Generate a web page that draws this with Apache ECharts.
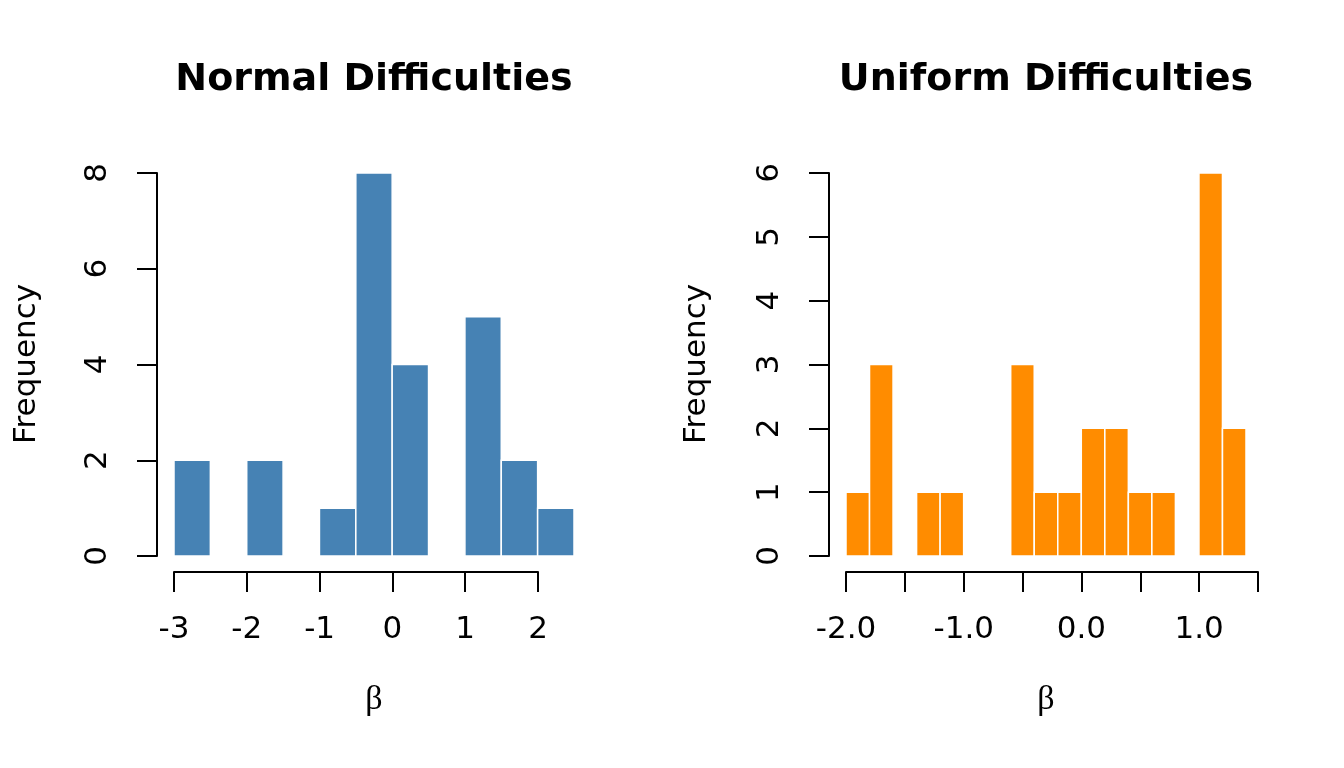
<!DOCTYPE html>
<html>
<head>
<meta charset="utf-8">
<script src="https://cdn.jsdelivr.net/npm/echarts@6/dist/echarts.min.js"></script>
<style>html,body{margin:0;padding:0;background:#fff}#c{width:1344px;height:768px}</style>
</head>
<body>
<div id="c"></div>
<script>
const normalBreaks = [-3, -2.5, -2, -1.5, -1, -0.5, 0, 0.5, 1, 1.5, 2, 2.5];
const normalCounts = [2, 0, 2, 0, 1, 8, 4, 0, 5, 2, 1];
const uniformBreaks = [-2.0, -1.8, -1.6, -1.4, -1.2, -1.0, -0.8, -0.6, -0.4, -0.2, 0.0, 0.2, 0.4, 0.6, 0.8, 1.0, 1.2, 1.4];
const uniformCounts = [1, 3, 0, 1, 1, 0, 0, 3, 1, 1, 2, 2, 1, 1, 0, 6, 2];
const titles = ['Normal Difficulties', 'Uniform Difficulties'];
const yTitle = 'Frequency';
const xTitle = 'β';

function binData(breaks, counts) {
  const out = [];
  for (let i = 0; i < counts.length; i++) out.push([breaks[i], breaks[i + 1], counts[i]]);
  return out;
}

const FONT = 'DejaVu Sans';
const FS = 31;
const axisLineStyle = { color: '#000', width: 2 };

function renderBar(color) {
  return function (params, api) {
    const x0 = api.value(0), x1 = api.value(1), c = api.value(2);
    if (!c) return null;
    const p0 = api.coord([x0, c]);
    const p1 = api.coord([x1, 0]);
    return {
      type: 'rect',
      shape: { x: p0[0], y: p0[1], width: p1[0] - p0[0], height: p1[1] - p0[1] },
      style: { fill: color, stroke: '#fff', lineWidth: 1.5 }
    };
  };
}

const chart = echarts.init(document.getElementById('c'), null, { renderer: 'canvas' });

const dataGrid = (left) => ({ left: left, top: 173, width: 400, height: 383 });
const dispGrid = (left, w) => ({ left: left, top: 173, width: w, height: 383 });

function visibleX(gridIndex, min, max, interval, fmt) {
  return {
    type: 'value', gridIndex, min, max, interval, position: 'bottom', offset: 16,
    axisLine: { show: true, lineStyle: axisLineStyle, onZero: false },
    axisTick: { show: true, length: 20, lineStyle: axisLineStyle },
    axisLabel: { show: true, margin: 42, fontFamily: FONT, fontSize: FS, color: '#000', formatter: fmt, showMinLabel: true, showMaxLabel: true },
    splitLine: { show: false }
  };
}
function hiddenX(gridIndex, min, max) {
  return { type: 'value', gridIndex, min, max, show: false, axisLine: { onZero: false }, splitLine: { show: false } };
}
function visibleY(gridIndex, min, max, interval) {
  return {
    type: 'value', gridIndex, min, max, interval, position: 'left', offset: 17,
    axisLine: { show: true, lineStyle: axisLineStyle, onZero: false },
    axisTick: { show: true, length: 20, lineStyle: axisLineStyle },
    axisLabel: { show: true, rotate: 90, margin: 44, fontFamily: FONT, fontSize: FS, color: '#000' },
    splitLine: { show: false }
  };
}
function hiddenY(gridIndex, min, max) {
  return { type: 'value', gridIndex, min, max, show: false, axisLine: { onZero: false }, splitLine: { show: false } };
}

const uniFmt = function (v) {
  const r = Math.round(v * 10) / 10;
  return Math.abs(r - Math.round(r)) < 1e-6 ? r.toFixed(1) : '';
};

function gtext(text, x, y, font, extra) {
  return Object.assign({
    type: 'text', x, y,
    style: { text, font, fill: '#000', textAlign: 'center', textVerticalAlign: 'middle' }
  }, extra || {});
}

chart.setOption({
  animation: false,
  backgroundColor: '#fff',
  grid: [dataGrid(174), dispGrid(174, 364), dataGrid(846), dispGrid(846, 412)],
  xAxis: [
    hiddenX(0, normalBreaks[0], normalBreaks[normalBreaks.length - 1]),
    visibleX(1, -3, 2, 1, function (v) { return String(v); }),
    hiddenX(2, uniformBreaks[0], uniformBreaks[uniformBreaks.length - 1]),
    visibleX(3, -2, 1.5, 0.5, uniFmt)
  ],
  yAxis: [
    visibleY(0, 0, 8, 2),
    hiddenY(1, 0, 8),
    visibleY(2, 0, 6, 1),
    hiddenY(3, 0, 6)
  ],
  series: [
    { type: 'custom', xAxisIndex: 0, yAxisIndex: 0, renderItem: renderBar('#4682B4'), data: binData(normalBreaks, normalCounts), encode: { x: [0, 1], y: 2 } },
    { type: 'custom', xAxisIndex: 2, yAxisIndex: 2, renderItem: renderBar('#FF8C00'), data: binData(uniformBreaks, uniformCounts), encode: { x: [0, 1], y: 2 } }
  ],
  graphic: [
    gtext(titles[0], 374, 80, 'bold 38px "DejaVu Sans"'),
    gtext(titles[1], 1046, 80, 'bold 38px "DejaVu Sans"'),
    gtext(xTitle, 374, 700, '34px "Liberation Serif"'),
    gtext(xTitle, 1046, 700, '34px "Liberation Serif"'),
    gtext(yTitle, 27, 364, FS + 'px "DejaVu Sans"', { rotation: Math.PI / 2 }),
    gtext(yTitle, 697, 364, FS + 'px "DejaVu Sans"', { rotation: Math.PI / 2 })
  ]
});
</script>
</body>
</html>
